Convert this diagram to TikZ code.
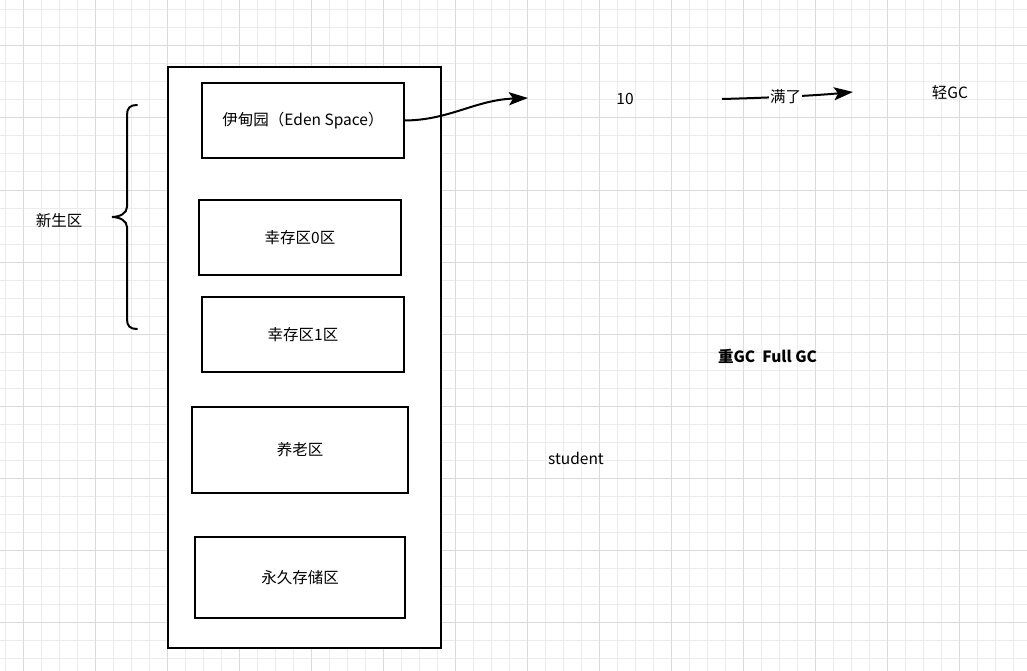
\documentclass[tikz,border=0pt]{standalone}
\usepackage{fontspec}
\setmainfont{Noto Sans CJK SC}
\usetikzlibrary{arrows.meta}
\definecolor{gridminor}{HTML}{EBEBEB}
\definecolor{gridmajor}{HTML}{DADADA}
\tikzset{
  box/.style={draw=black, line width=2pt, fill=white, inner sep=0pt},
  lbl/.style={inner sep=0pt, font=\fontsize{15.5}{18}\selectfont},
  conn/.style={line width=2pt, -{Stealth[length=19pt,width=13pt,inset=4pt]}},
}
\begin{document}
\begin{tikzpicture}[x=1pt,y=-1pt]
\useasboundingbox (0,0) rectangle (1027,671);
\fill[white] (0,0) rectangle (1027,671);
% grid
\foreach \i in {0,...,57} {
  \draw[gridminor, line width=1pt] ({5.7+18*\i},0) -- ({5.7+18*\i},671);
}
\foreach \j in {0,...,37} {
  \draw[gridminor, line width=1pt] (0,{10+18*\j}) -- (1027,{10+18*\j});
}
\foreach \i in {0,...,14} {
  \draw[gridmajor, line width=1pt] ({23.7+72*\i},0) -- ({23.7+72*\i},671);
}
\foreach \j in {0,...,8} {
  \draw[gridmajor, line width=1pt] (0,{46+72*\j}) -- (1027,{46+72*\j});
}
% outer container
\node[box, minimum width=273pt, minimum height=581pt] (heap) at (304.5,357.5) {};
% inner boxes
\node[box, lbl, minimum width=202pt, minimum height=75pt] (eden) at (303,120.5) {伊甸园（Eden Space）};
\node[box, lbl, minimum width=202pt, minimum height=75pt] (s0) at (300,237.5) {幸存区0区};
\node[box, lbl, minimum width=202pt, minimum height=75pt] (s1) at (303,334.5) {幸存区1区};
\node[box, lbl, minimum width=216pt, minimum height=86pt] (old) at (300,450) {养老区};
\node[box, lbl, minimum width=210pt, minimum height=81pt] (perm) at (300,577.5) {永久存储区};
% brace
\draw[line width=2pt, line cap=round] (137,105) .. controls (130,105) and (127,108) .. (127,115)
  -- (127,207) .. controls (127,213) and (120,217) .. (112,217)
  .. controls (120,217) and (127,221) .. (127,227)
  -- (127,319) .. controls (127,326) and (130,329) .. (137,329);
\node[lbl] (young) at (59,220.5) {新生区};
% texts
\node[lbl] (ten) at (625,99) {10};
\node[lbl] (light) at (950,92.5) {轻GC};
\node[lbl, font=\fontsize{15.5}{18}\selectfont\bfseries] (full) at (767.5,356) {重GC\ \ Full GC};
\node[lbl] (student) at (576,458) {student};
% arrows
\coordinate (a1end) at (528,98);
\draw[conn] (eden.east) .. controls (450,120) and (475,100) .. (a1end);
\coordinate (a2start) at (722,99);
\coordinate (a2end) at (853,92);
\draw[conn] (a2start) .. controls (760,98) and (810,96) .. node[lbl, fill=white, inner sep=1pt, pos=0.5] (full2) {满了} (a2end);
\end{tikzpicture}
\end{document}
